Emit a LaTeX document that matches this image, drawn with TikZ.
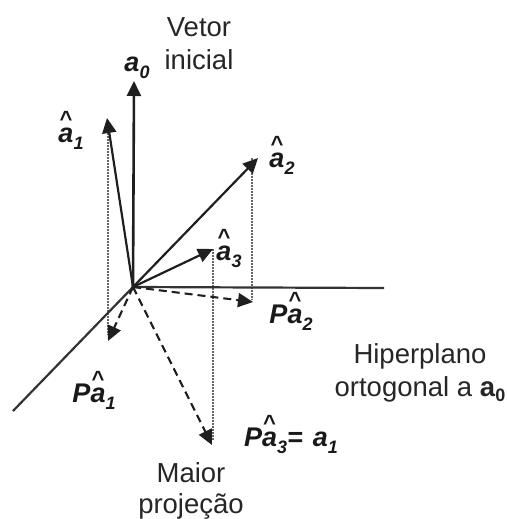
\documentclass[tikz,border=0pt]{standalone}
\usepackage{fontspec}
\setmainfont{Liberation Sans}
\usetikzlibrary{arrows.meta}
\newcommand{\hatlet}{\ooalign{\hfil\raisebox{0.56em}{\fontsize{22}{22}\selectfont\bfseries\upshape\^{}}\hfil\cr\textbf{\textit{a}}\cr}}
\newcommand{\subi}[1]{\raisebox{-0.28em}{\fontsize{18}{18}\selectfont\textbf{\textit{#1}}}}
\tikzset{
  txt/.style={inner sep=0pt,font=\fontsize{27.5}{27.5}\selectfont,text=black!85},
  lab/.style={inner sep=0pt,font=\fontsize{27}{27}\selectfont,text=black!90},
  tip/.style={-{Triangle[length=15pt,width=14pt]}},
  solidv/.style={line width=2.2pt,color=black!88,tip},
  axisl/.style={line width=2.2pt,color=black!80},
  dashv/.style={line width=2.1pt,color=black!88,dash pattern=on 8pt off 5pt,tip},
  dots/.style={line width=1.4pt,color=black!60,dash pattern=on 1.5pt off 1.5pt},
}
\begin{document}
\begin{tikzpicture}[x=1pt,y=-1pt]
\useasboundingbox (0,0) rectangle (506,519);
\coordinate (O) at (133,287);
\coordinate (a0) at (134,81);
\coordinate (a1) at (107,118);
\coordinate (a2) at (258,158);
\coordinate (a3) at (213,249);
\coordinate (p1) at (108,341);
\coordinate (p2) at (253,302);
\coordinate (p3) at (212,445);
\coordinate (hr) at (384,288);
\coordinate (bl) at (13,411);
\coordinate (d1) at (108,130);
\coordinate (d2) at (252,158);
\coordinate (d2b) at (252,300);
\coordinate (d3) at (213,249);
\coordinate (d3b) at (213,440);
\coordinate (d1b) at (108,335);

\draw[dots] (d1) -- (d1b);
\draw[dots] (d2) -- (d2b);
\draw[dots] (d3) -- (d3b);
\draw[axisl] (bl) -- (O) -- (hr);
\draw[solidv,line width=2.6pt] (O) -- (a0);
\draw[solidv] (O) -- (a1);
\draw[solidv] (O) -- (a2);
\draw[solidv] (O) -- (a3);
\draw[dashv] (O) -- (p1);
\draw[dashv] (O) -- (p2);
\draw[dashv] (O) -- (p3);

\node[txt] (vetor) at (199,27) {Vetor};
\node[txt] (inicial) at (199,60) {inicial};
\node[lab] (la0) at (137,68) {\textbf{\textit{a}}\subi{0}};
\node[lab,anchor=base] (la1) at (71,142) {\hatlet\subi{1}};
\node[lab,anchor=base] (la2) at (282,167) {\hatlet\subi{2}};
\node[lab,anchor=base] (la3) at (229,260) {\hatlet\subi{3}};
\node[lab,anchor=base] (lp2) at (291,323) {\textbf{\textit{P}}\hatlet\subi{2}};
\node[lab,anchor=base] (lp1) at (94,402) {\textbf{\textit{P}}\hatlet\subi{1}};
\node[lab,anchor=base] (lp3) at (291,446) {\textbf{\textit{P}}\hatlet\subi{3}\textbf{\textit{=}}\hspace{10pt}\textbf{\textit{a}}\subi{1}};
\node[txt] (maior) at (191,473) {Maior};
\node[txt] (proj) at (191,506) {projeção};
\node[txt] (hip) at (420,356) {Hiperplano};
\node[txt] (ort) at (420,389) {ortogonal a \textbf{a}\raisebox{-0.2em}{\fontsize{18}{18}\selectfont\textbf{0}}};
\end{tikzpicture}
\end{document}
